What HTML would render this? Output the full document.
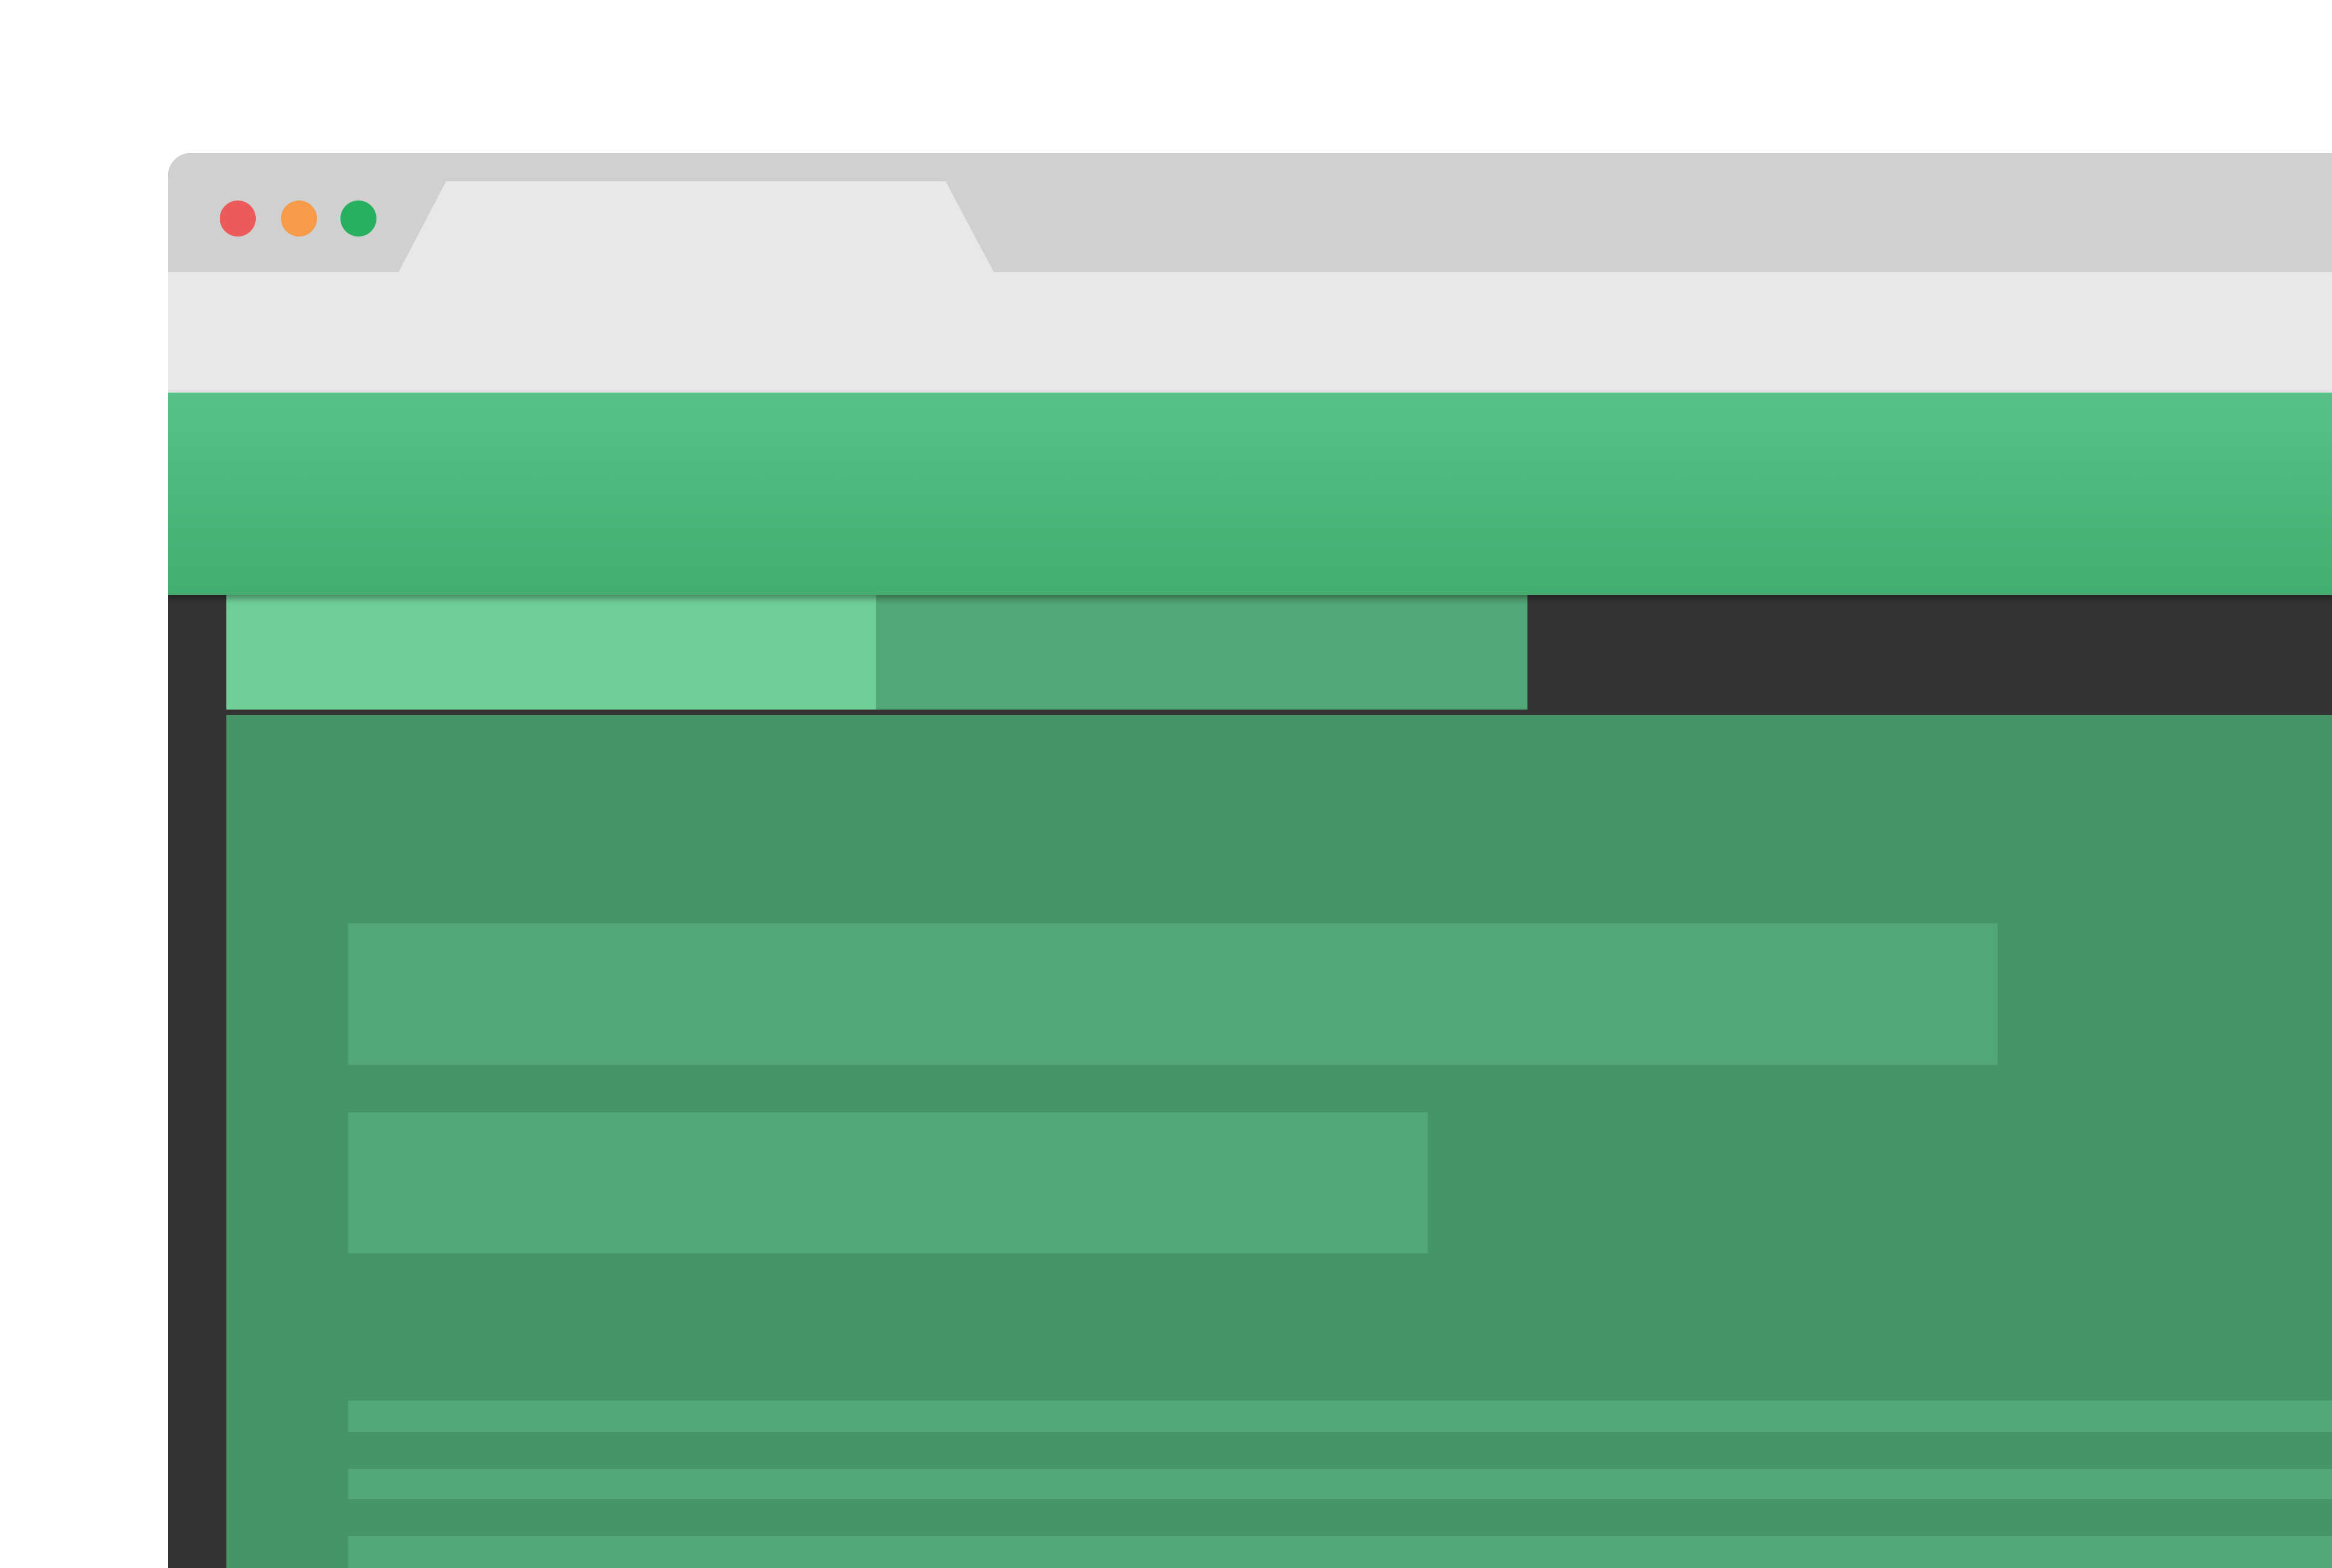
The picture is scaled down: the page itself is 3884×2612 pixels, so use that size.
<!DOCTYPE html>
<html><head><meta charset="utf-8"><style>
html,body{margin:0;padding:0;width:3884px;height:2612px;overflow:hidden;background:#fff;font-family:"Liberation Sans",sans-serif}
div{position:absolute;box-sizing:border-box}
</style></head><body>
<div style="left:280px;top:255px;width:3604px;height:2357px;border-top-left-radius:38px;overflow:hidden;background:#333">
  <div style="left:0;top:0;width:3604px;height:198px;background:#d0d0d0"></div>
  <svg style="position:absolute;left:0;top:0" width="3604" height="200"><polygon points="384,198 463,47 1295,47 1375,198" fill="#e8e8e8"/></svg>
  <div style="left:86px;top:79px;width:60px;height:60px;border-radius:50%;background:#ee5a5a"></div>
  <div style="left:188px;top:79px;width:60px;height:60px;border-radius:50%;background:#f59b4a"></div>
  <div style="left:287px;top:79px;width:60px;height:60px;border-radius:50%;background:#27b060"></div>
  <div style="left:0;top:198px;width:3604px;height:201px;background:#e8e8e8"></div>
  <div style="left:0;top:399px;width:3604px;height:337px;background:linear-gradient(#58c187,#43ae70);box-shadow:0 6px 10px rgba(0,0,0,0.35);z-index:2"></div>
  <div style="left:0;top:736px;width:94px;height:1700px;background:#333"></div>
  <div style="left:97px;top:736px;width:1082px;height:191px;background:#6fcf97"></div>
  <div style="left:1179px;top:736px;width:1085px;height:191px;background:#51a775"></div>
  <div style="left:97px;top:936px;width:3510px;height:1500px;background:#459567"></div>
  <div style="left:300px;top:1283px;width:2747px;height:236px;background:#51a775"></div>
  <div style="left:300px;top:1598px;width:1798px;height:235px;background:#51a775"></div>
  <div style="left:300px;top:2078px;width:3304px;height:52px;background:#51a775"></div>
  <div style="left:300px;top:2192px;width:3304px;height:50px;background:#51a775"></div>
  <div style="left:300px;top:2304px;width:3304px;height:60px;background:#51a775"></div>
</div>
</body></html>
